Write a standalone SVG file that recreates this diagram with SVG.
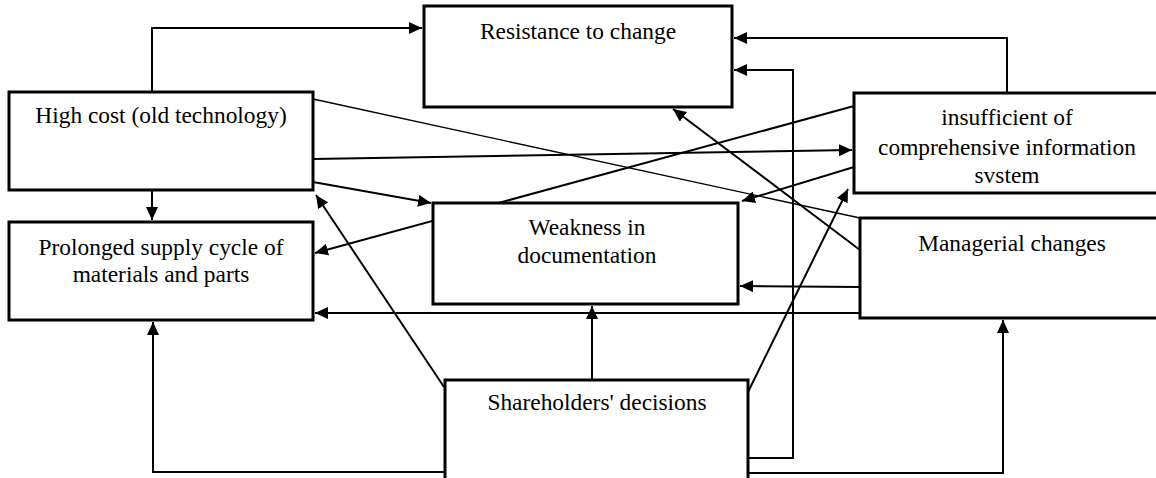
<svg xmlns="http://www.w3.org/2000/svg" width="1156" height="478" viewBox="0 0 1156 478">
<style>
.box{fill:#fff;stroke:#000;stroke-width:3}
.t{font-family:"Liberation Serif","Times New Roman","DejaVu Serif",serif;font-size:23.4px;fill:#000;text-anchor:middle}
.c{fill:none;stroke:#000;stroke-width:2}
.thin{fill:none;stroke:#000;stroke-width:1.4}
</style>
<defs>
<marker id="ah" markerUnits="userSpaceOnUse" markerWidth="14" markerHeight="12" refX="13" refY="6" orient="auto">
<path d="M0,0 L13,6 L0,12 z" fill="#000"/>
</marker>
</defs>
<rect width="1156" height="478" fill="#fff"/>
<g id="connectors">
<path class="c" d="M152,92 V28 H422" marker-end="url(#ah)"/>
<path class="c" d="M1007,93 V38 H734" marker-end="url(#ah)"/>
<path class="c" d="M748,458 H793 V70 H734" marker-end="url(#ah)"/>
<line class="thin" x1="313" y1="99" x2="860" y2="218"/>
<line class="c" x1="313" y1="159" x2="852" y2="150" marker-end="url(#ah)"/>
<line class="c" x1="313" y1="182" x2="431" y2="203" marker-end="url(#ah)"/>
<line class="c" x1="152" y1="190" x2="152" y2="220" marker-end="url(#ah)"/>
<line class="c" x1="854" y1="106" x2="315" y2="253" marker-end="url(#ah)"/>
<line class="c" x1="854" y1="167" x2="742" y2="201" marker-end="url(#ah)"/>
<line class="c" x1="860" y1="250" x2="673" y2="109" marker-end="url(#ah)"/>
<line class="c" x1="860" y1="287" x2="740" y2="286" marker-end="url(#ah)"/>
<line class="c" x1="860" y1="313" x2="315" y2="313" marker-end="url(#ah)"/>
<line class="c" x1="444" y1="387" x2="316" y2="195" marker-end="url(#ah)"/>
<line class="c" x1="592" y1="380" x2="592" y2="306" marker-end="url(#ah)"/>
<line class="c" x1="748" y1="392" x2="848" y2="189" marker-end="url(#ah)"/>
<path class="c" d="M445,472 H153 V322" marker-end="url(#ah)"/>
<path class="c" d="M748,473 H1003 V320" marker-end="url(#ah)"/>
</g>
<g id="high-cost">
<rect class="box" x="9" y="92" width="304" height="98"/>
<text class="t" x="161" y="123">High cost (old technology)</text>
</g>
<g id="prolonged">
<rect class="box" x="9" y="222" width="304" height="98"/>
<text class="t" x="161" y="255">Prolonged supply cycle of</text>
<text class="t" x="161" y="282">materials and parts</text>
</g>
<g id="resistance">
<rect class="box" x="424" y="6" width="308" height="101"/>
<text class="t" x="578" y="39">Resistance to change</text>
</g>
<g id="weakness">
<rect class="box" x="433" y="203" width="305" height="101"/>
<text class="t" x="587" y="235">Weakness in</text>
<text class="t" x="587" y="263">documentation</text>
</g>
<g id="insufficient">
<rect class="box" x="854" y="93" width="320" height="100"/>
<text class="t" x="1007" y="125">insufficient of</text>
<text class="t" x="1007" y="155">comprehensive information</text>
<text class="t" x="1007" y="183">svstem</text>
</g>
<g id="managerial">
<rect class="box" x="860" y="218" width="320" height="100"/>
<text class="t" x="1012" y="251">Managerial changes</text>
</g>
<g id="shareholders">
<rect class="box" x="445" y="380" width="303" height="120"/>
<text class="t" x="597" y="410">Shareholders' decisions</text>
</g>
</svg>
